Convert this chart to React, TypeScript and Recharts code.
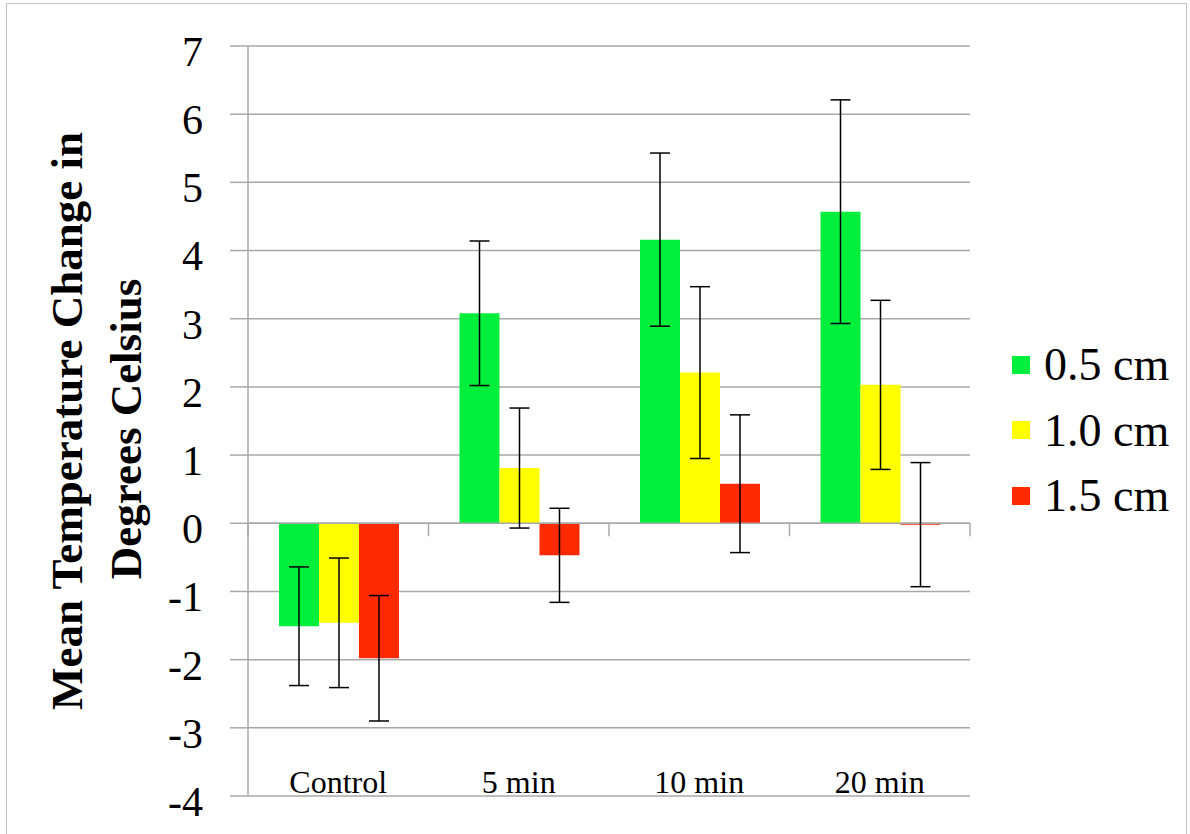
import { BarChart, Bar, XAxis, YAxis, CartesianGrid, ErrorBar, ReferenceLine, Legend } from 'recharts';

const categories = ['Control', '5 min', '10 min', '20 min'];
const seriesNames = ['0.5 cm', '1.0 cm', '1.5 cm'];

// means and error amounts (degrees C)
const mean05 = [-1.51, 3.08, 4.16, 4.57];
const err05 = [0.87, 1.06, 1.27, 1.64];
const mean10 = [-1.46, 0.81, 2.21, 2.03];
const err10 = [0.95, 0.88, 1.26, 1.24];
const mean15 = [-1.98, -0.47, 0.58, -0.02];
const err15 = [0.92, 0.69, 1.01, 0.91];

const yTicks = [-4, -3, -2, -1, 0, 1, 2, 3, 4, 5, 6, 7];

const COLORS = ['#00EE3C', '#FFFF00', '#FF2A00'];
const FONT = "'Liberation Serif', 'Times New Roman', serif";
const GRID = '#a8a8a8';

const data = categories.map((name, i) => ({
  name,
  m05: mean05[i],
  e05: err05[i],
  m10: mean10[i],
  e10: err10[i],
  m15: mean15[i],
  e15: err15[i],
}));

const YTick = ({ x, y, payload }: any) => (
  <text x={x} y={y + 5} dy="0.355em" textAnchor="end" fontFamily={FONT} fontSize={42} fill="#000">
    {payload.value}
  </text>
);

const XTick = ({ x, y, payload }: any) => (
  <text x={x} y={y - 3} textAnchor="middle" fontFamily={FONT} fontSize={32} fill="#000">
    {payload.value}
  </text>
);

const YTitle = () => (
  <g fontFamily={FONT} fontWeight="bold" fontSize={45} fill="#000">
    <text transform="translate(82,421) rotate(-90)" textAnchor="middle">
      Mean Temperature Change in
    </text>
    <text transform="translate(141,429) rotate(-90)" textAnchor="middle">
      Degrees Celsius
    </text>
  </g>
);

const LegendBox = () => (
  <div style={{ width: 190, fontFamily: FONT, fontSize: 46, color: '#000' }}>
    {seriesNames.map((s, i) => (
      <div key={s} style={{ height: 65.5, display: 'flex', alignItems: 'center' }}>
        <span
          style={{
            display: 'inline-block',
            width: 18,
            height: 18,
            background: COLORS[i],
            marginLeft: 12,
            marginRight: 14,
          }}
        />
        <span>{s}</span>
      </div>
    ))}
  </div>
);

const App = () => {
  return (
    <div style={{ position: 'absolute', left: 0, top: 0, width: 1190, height: 834, background: '#fff' }}>
      <div
        style={{
          position: 'absolute',
          left: 6,
          top: 3,
          width: 1181,
          height: 831,
          border: '1.5px solid #c4c4c4',
          borderBottom: 'none',
          boxSizing: 'border-box',
        }}
      />
      <BarChart
        width={1190}
        height={834}
        data={data}
        margin={{ top: 46, right: 30, left: 0, bottom: 0 }}
        barCategoryGap={31}
        barGap={0}
      >
        <CartesianGrid vertical={false} stroke={GRID} strokeWidth={1.5} />
        <XAxis
          dataKey="name"
          height={38}
          axisLine={false}
          tickLine={false}
          tickSize={0}
          tickMargin={0}
          tick={<XTick />}
          interval={0}
        />
        <YAxis
          width={248}
          domain={[-4, 7]}
          ticks={yTicks}
          interval={0}
          axisLine={{ stroke: GRID, strokeWidth: 1.5 }}
          tickLine={{ stroke: GRID, strokeWidth: 1.5 }}
          tickSize={18}
          tickMargin={27}
          tick={<YTick />}
          label={<YTitle />}
        />
        <ReferenceLine y={0} stroke={GRID} strokeWidth={1.5} />
        {/* small category ticks hanging below the zero line */}
        {categories.map((c) => (
          <ReferenceLine
            key={c}
            position="start"
            segment={[
              { x: c, y: 0 },
              { x: c, y: -0.19 },
            ]}
            stroke={GRID}
            strokeWidth={1.5}
          />
        ))}
        <ReferenceLine
          position="end"
          segment={[
            { x: categories[categories.length - 1], y: 0 },
            { x: categories[categories.length - 1], y: -0.19 },
          ]}
          stroke={GRID}
          strokeWidth={1.5}
        />
        <Bar dataKey="m05" name={seriesNames[0]} fill={COLORS[0]} isAnimationActive={false}>
          <ErrorBar dataKey="e05" width={10} stroke="#000" strokeWidth={1.5} isAnimationActive={false} />
        </Bar>
        <Bar dataKey="m10" name={seriesNames[1]} fill={COLORS[1]} isAnimationActive={false}>
          <ErrorBar dataKey="e10" width={10} stroke="#000" strokeWidth={1.5} isAnimationActive={false} />
        </Bar>
        <Bar dataKey="m15" name={seriesNames[2]} fill={COLORS[2]} isAnimationActive={false}>
          <ErrorBar dataKey="e15" width={10} stroke="#000" strokeWidth={1.5} isAnimationActive={false} />
        </Bar>
        <Legend
          layout="vertical"
          align="right"
          verticalAlign="middle"
          content={<LegendBox />}
          wrapperStyle={{ left: 1000, top: 332, width: 190 }}
        />
      </BarChart>
    </div>
  );
};

export default App;
